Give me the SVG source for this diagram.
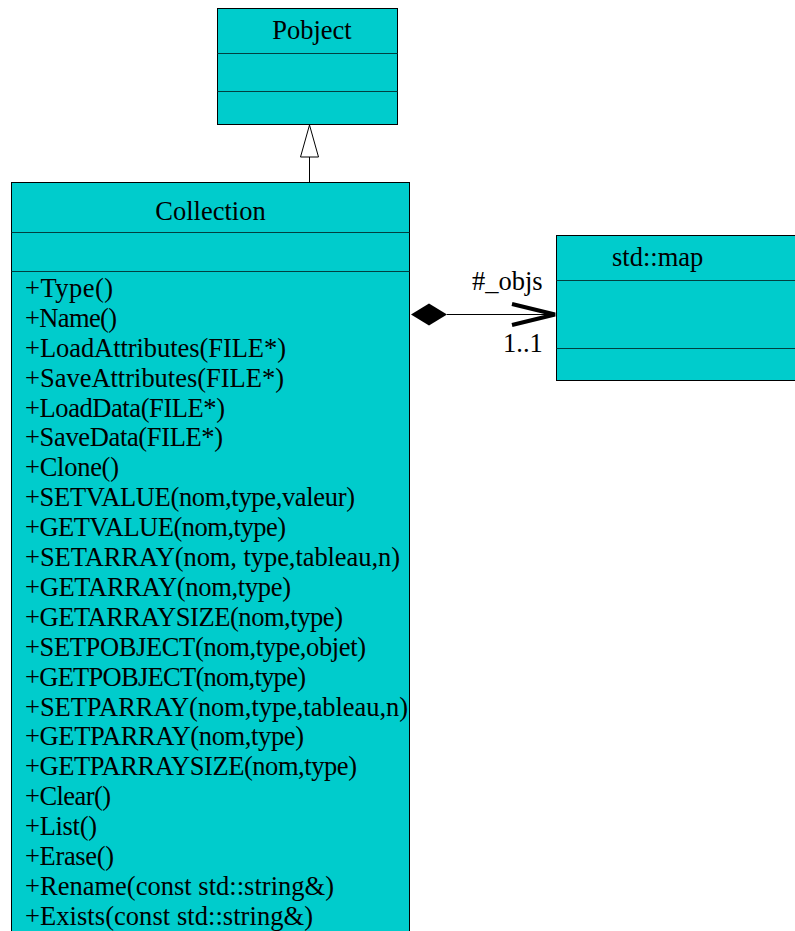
<svg xmlns="http://www.w3.org/2000/svg" width="795" height="931" viewBox="0 0 795 931">
  <style>
    .box { fill: #00cccc; stroke: #000; stroke-width: 1; }
    .sep { stroke: #004040; stroke-width: 1; }
    .line { stroke: #000; stroke-width: 1; fill: none; }
  </style>
  <rect width="795" height="931" fill="#fff"/>

  <!-- Pobject class -->
  <g id="pobject">
    <rect class="box" x="217.5" y="8.5" width="180" height="116"/>
    <line class="sep" x1="217.5" y1="53.5" x2="397.5" y2="53.5"/>
    <line class="sep" x1="217.5" y1="91.5" x2="397.5" y2="91.5"/>
    <text x="312" y="39" text-anchor="middle" font-family="Liberation Serif" font-size="26.5">Pobject</text>
  </g>

  <!-- Collection class -->
  <g id="collection">
    <rect class="box" x="11.5" y="182.5" width="398" height="760"/>
    <line class="sep" x1="11.5" y1="232.5" x2="409.5" y2="232.5"/>
    <line class="sep" x1="11.5" y1="271.5" x2="409.5" y2="271.5"/>
    <text x="210.5" y="220" text-anchor="middle" font-family="Liberation Serif" font-size="26.5">Collection</text>
    <text x="25" y="297" font-family="Liberation Serif" font-size="26.5" textLength="88" lengthAdjust="spacing">+Type()</text>
    <text x="25" y="327" font-family="Liberation Serif" font-size="26.5" textLength="92" lengthAdjust="spacing">+Name()</text>
    <text x="25" y="357" font-family="Liberation Serif" font-size="26.5" textLength="261" lengthAdjust="spacing">+LoadAttributes(FILE*)</text>
    <text x="25" y="387" font-family="Liberation Serif" font-size="26.5" textLength="259" lengthAdjust="spacing">+SaveAttributes(FILE*)</text>
    <text x="25" y="417" font-family="Liberation Serif" font-size="26.5" textLength="200" lengthAdjust="spacing">+LoadData(FILE*)</text>
    <text x="25" y="446" font-family="Liberation Serif" font-size="26.5" textLength="198" lengthAdjust="spacing">+SaveData(FILE*)</text>
    <text x="25" y="476" font-family="Liberation Serif" font-size="26.5" textLength="94" lengthAdjust="spacing">+Clone()</text>
    <text x="25" y="506" font-family="Liberation Serif" font-size="26.5" textLength="330" lengthAdjust="spacing">+SETVALUE(nom,type,valeur)</text>
    <text x="25" y="536" font-family="Liberation Serif" font-size="26.5" textLength="261" lengthAdjust="spacing">+GETVALUE(nom,type)</text>
    <text x="25" y="566" font-family="Liberation Serif" font-size="26.5" textLength="375" lengthAdjust="spacing">+SETARRAY(nom, type,tableau,n)</text>
    <text x="25" y="596" font-family="Liberation Serif" font-size="26.5" textLength="266" lengthAdjust="spacing">+GETARRAY(nom,type)</text>
    <text x="25" y="626" font-family="Liberation Serif" font-size="26.5" textLength="318" lengthAdjust="spacing">+GETARRAYSIZE(nom,type)</text>
    <text x="25" y="656" font-family="Liberation Serif" font-size="26.5" textLength="341" lengthAdjust="spacing">+SETPOBJECT(nom,type,objet)</text>
    <text x="25" y="686" font-family="Liberation Serif" font-size="26.5" textLength="281" lengthAdjust="spacing">+GETPOBJECT(nom,type)</text>
    <text x="25" y="716" font-family="Liberation Serif" font-size="26.5" textLength="383" lengthAdjust="spacing">+SETPARRAY(nom,type,tableau,n)</text>
    <text x="25" y="745" font-family="Liberation Serif" font-size="26.5" textLength="279" lengthAdjust="spacing">+GETPARRAY(nom,type)</text>
    <text x="25" y="775" font-family="Liberation Serif" font-size="26.5" textLength="332" lengthAdjust="spacing">+GETPARRAYSIZE(nom,type)</text>
    <text x="25" y="805" font-family="Liberation Serif" font-size="26.5" textLength="86" lengthAdjust="spacing">+Clear()</text>
    <text x="25" y="835" font-family="Liberation Serif" font-size="26.5" textLength="72" lengthAdjust="spacing">+List()</text>
    <text x="25" y="865" font-family="Liberation Serif" font-size="26.5" textLength="89" lengthAdjust="spacing">+Erase()</text>
    <text x="25" y="895" font-family="Liberation Serif" font-size="26.5" textLength="309" lengthAdjust="spacing">+Rename(const std::string&amp;)</text>
    <text x="25" y="925" font-family="Liberation Serif" font-size="26.5" textLength="288" lengthAdjust="spacing">+Exists(const std::string&amp;)</text>
  </g>

  <!-- std::map class -->
  <g id="stdmap">
    <rect class="box" x="556.5" y="235.5" width="250" height="145"/>
    <line class="sep" x1="556.5" y1="280.5" x2="806" y2="280.5"/>
    <line class="sep" x1="556.5" y1="348.5" x2="806" y2="348.5"/>
    <text x="612" y="266" font-family="Liberation Serif" font-size="26.5">std::map</text>
  </g>

  <!-- Connectors -->
  <g id="connectors">
    <!-- generalization Collection -> Pobject -->
    <line class="line" x1="309.5" y1="157" x2="309.5" y2="182"/>
    <polygon points="309.5,125 300.5,157 318.5,157" fill="#fff" stroke="#000" stroke-width="1"/>
    <!-- composition Collection -> std::map -->
    <line class="line" x1="447" y1="314.5" x2="555" y2="314.5"/>
    <polygon points="411,314.5 429,303.5 447,314.5 429,325.5" fill="#000"/>
    <polyline points="512,304 555,314.5 512,325" fill="none" stroke="#000" stroke-width="4"/>
    <text x="472" y="290" font-family="Liberation Serif" font-size="26.5">#_objs</text>
    <text x="503" y="352" font-family="Liberation Serif" font-size="26.5">1..1</text>
  </g>
</svg>
